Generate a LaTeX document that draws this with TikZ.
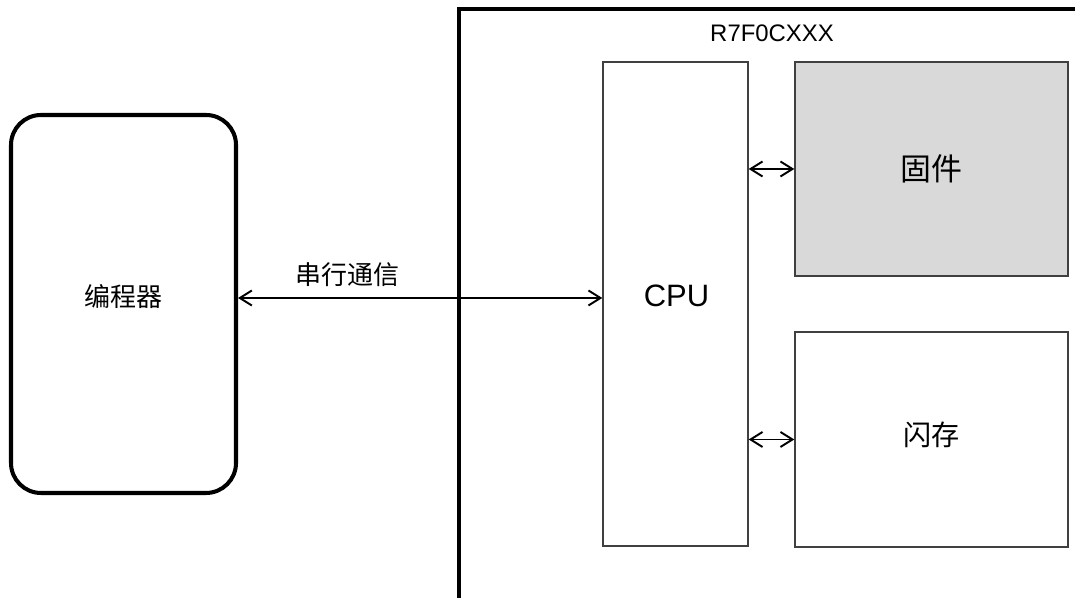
\documentclass[tikz,border=0pt]{standalone}
\usepackage{fontspec}
\setmainfont{Liberation Sans}
\newfontfamily\cjk{Noto Sans CJK SC}
\usetikzlibrary{arrows.meta}
\definecolor{fwgray}{HTML}{D9D9D9}

\begin{document}
\begin{tikzpicture}[
		blk/.style={draw=black!75, line width=0.8pt, inner sep=0pt},
		biarrow/.style={line width=1.1pt, {Straight Barb[length=0.24cm,width=0.3cm]}-{Straight Barb[length=0.24cm,width=0.3cm]}}
	]
		\useasboundingbox (0,0) rectangle (21.5,11.96);

		\node[draw, line width=2.3pt, rounded corners=0.6cm, minimum width=4.5cm, minimum height=7.56cm] (prog) at (2.47,5.88) {};
		\node at (2.47,6.02) {\fontsize{14.8}{16}\selectfont\cjk 编程器};

		% chip frame
		\draw[line width=2.3pt] (9.18,0) -- (9.18,11.78) -- (21.5,11.78);
		\node (chip) at (15.44,11.29) {\fontsize{13.6}{15}\selectfont R7F0CXXX};

		\node[blk, minimum width=2.9cm, minimum height=9.68cm] (cpu) at (13.51,5.88) {};
		\node at (13.53,6.04) {\fontsize{17.6}{19}\selectfont CPU};
		\node[blk, fill=fwgray, minimum width=5.46cm, minimum height=4.28cm] (fw) at (18.63,8.58) {\fontsize{17.6}{19}\selectfont\cjk 固件};
		\node[blk, minimum width=5.46cm, minimum height=4.3cm] (flash) at (18.63,3.17) {};
		\node at (18.63,3.27) {\fontsize{16}{18}\selectfont\cjk 闪存};

		\draw[biarrow] ([yshift=0.12cm]prog.east) -- node[pos=0.3, above=0.1cm] {\fontsize{14.8}{16}\selectfont\cjk 串行通信} ([yshift=0.12cm]cpu.west);
		\draw[biarrow] (cpu.east |- fw.west) -- (fw.west);
		\draw[biarrow] (cpu.east |- flash.west) -- (flash.west);

	\end{tikzpicture}
\end{document}
